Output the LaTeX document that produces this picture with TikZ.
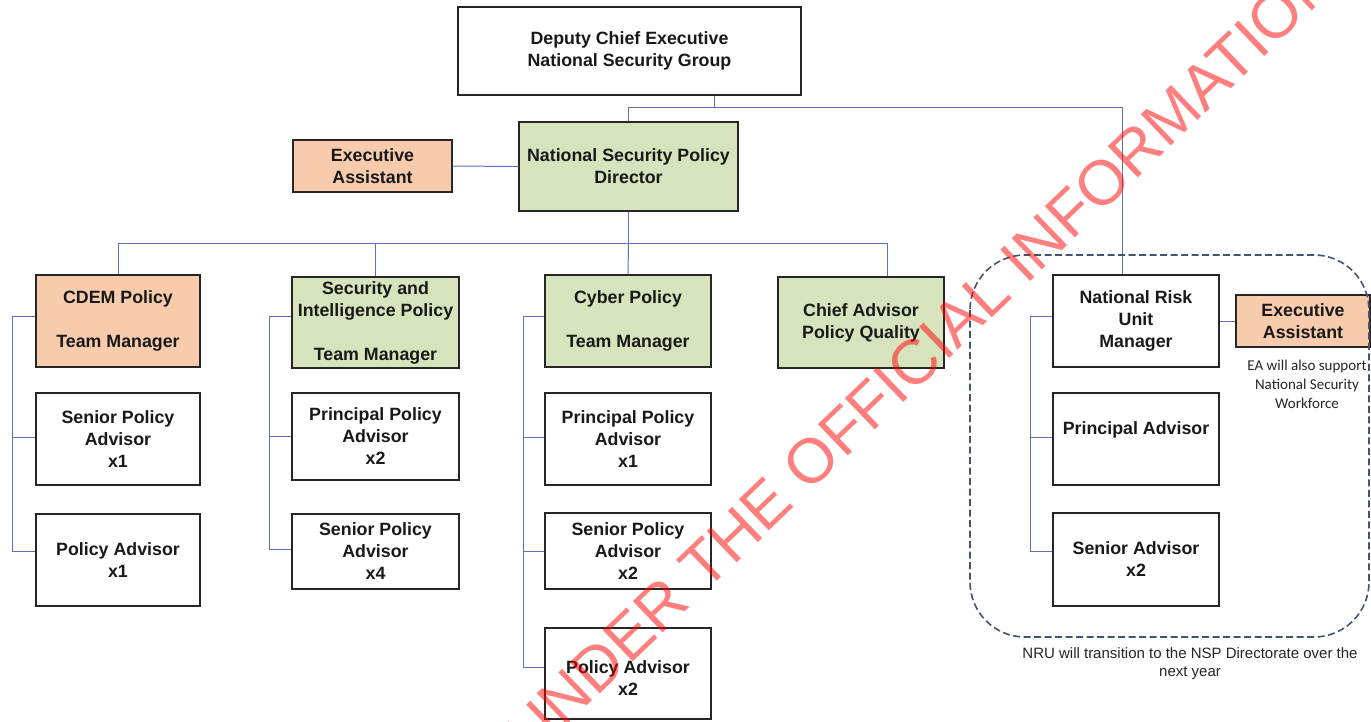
\documentclass[tikz,border=0pt]{standalone}
\usepackage{fontspec}
\setmainfont{Liberation Sans}
\newfontfamily\notefont{Carlito}
\definecolor{orgfill}{RGB}{248,203,173}
\definecolor{grnfill}{RGB}{215,227,189}
\definecolor{linkblue}{RGB}{92,114,180}
\definecolor{zonegray}{RGB}{68,84,110}
\begin{document}
\begin{tikzpicture}[x=1pt,y=-1pt,
  box/.style={draw=black!85, line width=1.2pt, rectangle, inner sep=0pt, align=center,
    font=\bfseries\fontsize{17.8}{22}\selectfont, text=black!90},
  orgbox/.style={box, fill=orgfill},
  grnbox/.style={box, fill=grnfill},
  link/.style={draw=linkblue, line width=1pt},
  zone/.style={draw=zonegray, line width=1.6pt, dash pattern=on 7pt off 3.5pt, rounded corners=55pt},
  note/.style={align=center, text=black!85, inner sep=0pt},
  stamp/.style={text=red, text opacity=0.5, inner sep=0pt, font=\fontsize{63}{63}\selectfont}]
\useasboundingbox (0,0) rectangle (1371,721);
\fill[white] (0,0) rectangle (1371,721);

% top of the structure
\node[box, minimum width=343pt, minimum height=88pt] (dce) at (629.5,51) {Deputy Chief Executive\\National Security Group};
\node[grnbox, minimum width=219pt, minimum height=89pt] (nspd) at (628.5,166.5) {National Security Policy\\Director};
\node[orgbox, minimum width=159pt, minimum height=52pt] (eatop) at (372.5,166) {Executive\\Assistant};

% team managers
\node[orgbox, minimum width=164pt, minimum height=92pt] (cdem) at (118,321) {CDEM Policy\\[22pt]Team Manager};
\node[grnbox, minimum width=167pt, minimum height=91pt] (sip) at (375.5,322.5) {Security and\\Intelligence Policy\\[22pt]Team Manager};
\node[grnbox, minimum width=166pt, minimum height=92pt] (cyb) at (628,321) {Cyber Policy\\[22pt]Team Manager};
\node[grnbox, minimum width=166pt, minimum height=91pt] (chief) at (861,322.5) {Chief Advisor\\Policy Quality};
\node[box, minimum width=166pt, minimum height=92pt] (nru) at (1136,321) {National Risk\\Unit\\Manager};
\node[orgbox, minimum width=134pt, minimum height=52pt] (earight) at (1303,321) {Executive\\Assistant};

% CDEM team
\node[box, minimum width=164pt, minimum height=92pt] (cdem1) at (118,439) {Senior Policy\\Advisor\\x1};
\node[box, minimum width=164pt, minimum height=92pt] (cdem2) at (118,560) {Policy Advisor\\x1};

% Security and Intelligence team
\node[box, minimum width=167pt, minimum height=87pt] (sip1) at (375.5,436.5) {Principal Policy\\Advisor\\x2};
\node[box, minimum width=167pt, minimum height=75pt] (sip2) at (375.5,551.5) {Senior Policy\\Advisor\\x4};

% Cyber team
\node[box, minimum width=166pt, minimum height=92pt] (cyb1) at (628,439) {Principal Policy\\Advisor\\x1};
\node[box, minimum width=166pt, minimum height=76pt] (cyb2) at (628,551) {Senior Policy\\Advisor\\x2};
\node[box, minimum width=166pt, minimum height=91pt] (cyb3) at (628,673.5) {\mbox{}\\Policy Advisor\\x2};

% National Risk Unit team
\node[box, minimum width=166pt, minimum height=92pt] (nru1) at (1136,439) {Principal Advisor\\\mbox{}};
\node[box, minimum width=166pt, minimum height=93pt] (nru2) at (1136,559.5) {Senior Advisor\\x2};

% junction points
\coordinate (jdce) at (714,107);
\coordinate (jl) at (628.5,107);
\coordinate (jr) at (1122,107);
\coordinate (busl) at (118,243);
\coordinate (busr) at (887,243);

% reporting lines
\draw[link] (dce.south -| jdce) -- (jdce);
\draw[link] (jl) -- (jr);
\draw[link] (jl) -- (nspd.north);
\draw[link] (jr) -- (nru.north -| jr);
\draw[link] (eatop.east) -- (nspd.west);
\draw[link] (nspd.south) -- (nspd.south |- busl);
\draw[link] (cdem.north) -- (busl) -- (busr) -- (busr |- chief.north);
\draw[link] (sip.north) -- (sip.north |- busl);
\draw[link] (nspd.south |- busl) -- (cyb.north);
\draw[link] (nru.east) -- (earight.west);

% team side buses
\draw[link] ([yshift=5pt]cdem.west) -- ++(-23,0) |- ([yshift=9pt]cdem2.west);
\draw[link] (cdem1.west) ++(0,-2) -- ++(-23,0);
\draw[link] ([yshift=6.5pt]sip.west) -- ++(-22,0) |- ([yshift=2.5pt]sip2.west);
\draw[link] (sip1.west) -- ++(-22,0);
\draw[link] ([yshift=5pt]cyb.west) -- ++(-21,0) |- ([yshift=6.5pt]cyb3.west);
\draw[link] ([yshift=2pt]cyb1.west) -- ++(-21,0);
\draw[link] (cyb2.west) -- ++(-21,0);
\draw[link] ([yshift=5pt]nru.west) -- ++(-22,0) |- ([yshift=8.5pt]nru2.west);
\draw[link] ([yshift=2pt]nru1.west) -- ++(-22,0);

% National Risk Unit transition zone
\draw[zone] (970,255) rectangle (1369,637);

% notes
\node[note, font=\notefont\fontsize{15}{19}\selectfont] (eanote) at (1307,384) {EA will also support\\National Security\\Workforce};
\node[note, font=\fontsize{15}{18}\selectfont] (zonenote) at (1190,664) {NRU will transition to the NSP Directorate over the\\next year};

% release stamp
\node[stamp, rotate=43.8] (stampline) at (921,356) {UNDER THE OFFICIAL INFORMATION};
\end{tikzpicture}
\end{document}
